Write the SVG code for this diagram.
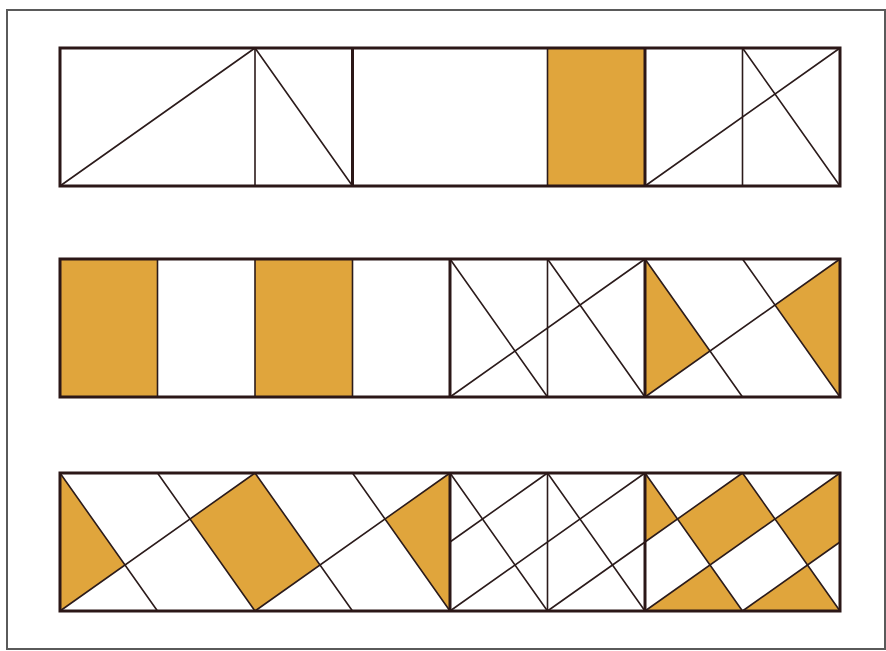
<svg xmlns="http://www.w3.org/2000/svg" width="886" height="651" viewBox="0 0 886 651">
<style>
.bg{fill:#ffffff}
.frame{fill:none;stroke:#5a5a5a;stroke-width:2}
.o{fill:#e0a53c;stroke:none}
.t{stroke:#2b1b1b;stroke-width:1.6;fill:none;stroke-linecap:round}
.k{stroke:#2b1717;stroke-width:3;fill:none}
</style>
<rect class="bg" x="0" y="0" width="886" height="651"/>
<rect class="frame" x="7" y="10" width="878" height="639"/>
<g id="row1">
  <g id="row1-fills">
    <rect class="o" x="547.5" y="48" width="97.5" height="138"/>
  </g>
  <g id="row1-lines">
    <line class="t" x1="60" y1="186" x2="255" y2="48"/>
    <line class="t" x1="255" y1="48" x2="255" y2="186"/>
    <line class="t" x1="255" y1="48" x2="352.5" y2="186"/>
    <line class="t" x1="547.5" y1="48" x2="547.5" y2="186"/>
    <line class="t" x1="742.5" y1="48" x2="742.5" y2="186"/>
    <line class="t" x1="645" y1="186" x2="840" y2="48"/>
    <line class="t" x1="742.5" y1="48" x2="840" y2="186"/>
  </g>
  <g id="row1-frame">
    <rect class="k" x="60" y="48" width="780" height="138"/>
    <line class="k" x1="352.5" y1="48" x2="352.5" y2="186"/>
    <line class="k" x1="645" y1="48" x2="645" y2="186"/>
  </g>
</g>
<g id="row2">
  <g id="row2-fills">
    <rect class="o" x="60" y="259" width="97.5" height="138"/>
    <rect class="o" x="255" y="259" width="97.5" height="138"/>
    <polygon class="o" points="645,259 645,397 710,351"/>
    <polygon class="o" points="840,259 840,397 775,305"/>
  </g>
  <g id="row2-lines">
    <line class="t" x1="157.5" y1="259" x2="157.5" y2="397"/>
    <line class="t" x1="255" y1="259" x2="255" y2="397"/>
    <line class="t" x1="352.5" y1="259" x2="352.5" y2="397"/>
    <line class="t" x1="547.5" y1="259" x2="547.5" y2="397"/>
    <line class="t" x1="450" y1="259" x2="547.5" y2="397"/>
    <line class="t" x1="547.5" y1="259" x2="645" y2="397"/>
    <line class="t" x1="450" y1="397" x2="645" y2="259"/>
    <line class="t" x1="645" y1="259" x2="742.5" y2="397"/>
    <line class="t" x1="742.5" y1="259" x2="840" y2="397"/>
    <line class="t" x1="645" y1="397" x2="840" y2="259"/>
  </g>
  <g id="row2-frame">
    <rect class="k" x="60" y="259" width="780" height="138"/>
    <line class="k" x1="450" y1="259" x2="450" y2="397"/>
    <line class="k" x1="645" y1="259" x2="645" y2="397"/>
  </g>
</g>
<g id="row3">
  <g id="row3-fills">
    <polygon class="o" points="60,473 60,611 125,565"/>
    <polygon class="o" points="255,473 190,519 255,611 320,565"/>
    <polygon class="o" points="450,473 450,611 385,519"/>
    <polygon class="o" points="645,473 645,542 677.5,519"/>
    <polygon class="o" points="742.5,473 677.5,519 710,565 775,519"/>
    <polygon class="o" points="840,473 775,519 807.5,565 840,542"/>
    <polygon class="o" points="645,611 710,565 742.5,611"/>
    <polygon class="o" points="742.5,611 807.5,565 840,611"/>
  </g>
  <g id="row3-lines">
    <line class="t" x1="60" y1="473" x2="157.5" y2="611"/>
    <line class="t" x1="157.5" y1="473" x2="255" y2="611"/>
    <line class="t" x1="255" y1="473" x2="352.5" y2="611"/>
    <line class="t" x1="352.5" y1="473" x2="450" y2="611"/>
    <line class="t" x1="60" y1="611" x2="255" y2="473"/>
    <line class="t" x1="255" y1="611" x2="450" y2="473"/>
    <line class="t" x1="547.5" y1="473" x2="547.5" y2="611"/>
    <line class="t" x1="450" y1="473" x2="547.5" y2="611"/>
    <line class="t" x1="547.5" y1="473" x2="645" y2="611"/>
    <line class="t" x1="450" y1="542" x2="547.5" y2="473"/>
    <line class="t" x1="450" y1="611" x2="645" y2="473"/>
    <line class="t" x1="547.5" y1="611" x2="645" y2="542"/>
    <line class="t" x1="645" y1="473" x2="742.5" y2="611"/>
    <line class="t" x1="742.5" y1="473" x2="840" y2="611"/>
    <line class="t" x1="645" y1="542" x2="742.5" y2="473"/>
    <line class="t" x1="645" y1="611" x2="840" y2="473"/>
    <line class="t" x1="742.5" y1="611" x2="840" y2="542"/>
  </g>
  <g id="row3-frame">
    <rect class="k" x="60" y="473" width="780" height="138"/>
    <line class="k" x1="450" y1="473" x2="450" y2="611"/>
    <line class="k" x1="645" y1="473" x2="645" y2="611"/>
  </g>
</g>
<g id="connectors"/>
</svg>
